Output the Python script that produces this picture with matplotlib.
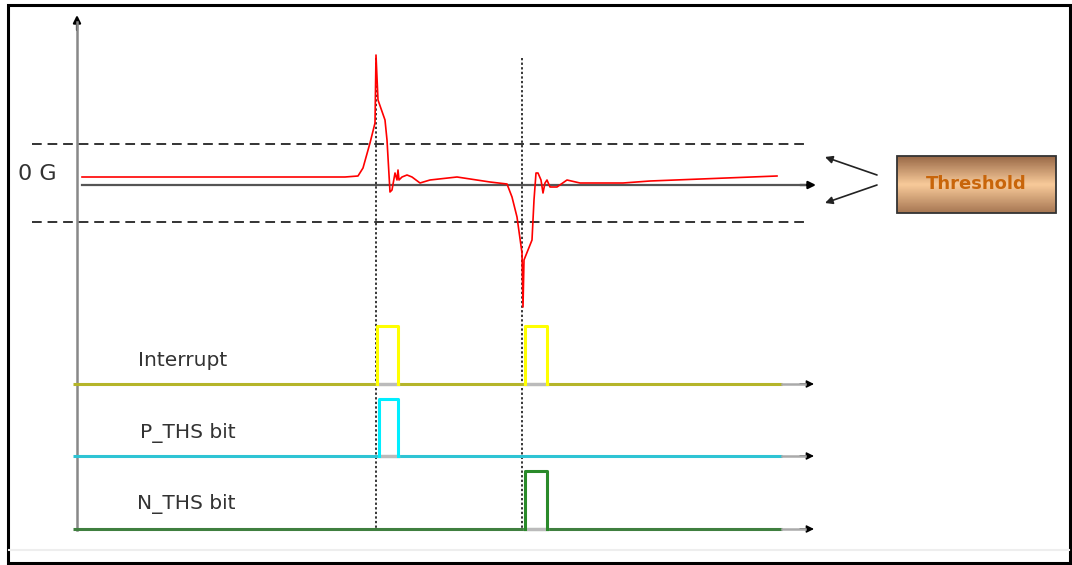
import numpy as np
import matplotlib.pyplot as plt
from matplotlib.patches import Rectangle, FancyArrowPatch

# all positions in picture pixels (x right, y down)
sig_x = [82, 200, 345, 358, 363, 370, 375, 376, 378, 385, 387, 390, 392, 395, 397,
         398, 399, 402, 407, 412, 420, 430, 457, 490, 507, 512, 517, 522, 523, 524,
         532, 534, 536, 538, 541, 543, 545, 547, 550, 557, 567, 580, 623, 650, 777]
sig_y = [177, 177, 177, 176, 168, 143, 123, 55, 100, 120, 140, 192, 190, 173, 180,
         170, 180, 177, 175, 177, 183, 180, 177, 182, 184, 197, 217, 253, 307, 260,
         240, 200, 173, 173, 180, 193, 183, 180, 187, 187, 180, 183, 183, 181, 176]

zero_y = 185
thr_hi = 144
thr_lo = 222
event_x = [376, 522]

channels = ["Interrupt", "P_THS bit", "N_THS bit"]
base_y = [384, 456, 529]
top_y = [326, 399, 471]
pulses = [[(377, 398), (525, 547)], [(379, 398)], [(525, 547)]]
base_col = ["#b5b52a", "#2ec4d4", "#3f7f3f"]
pulse_col = ["#ffff00", "#00eeff", "#2a8a2a"]
label_xy = [(138, 361), (140, 433), (137, 504)]

fig = plt.figure(figsize=(10.72, 5.65), dpi=100)
ax = fig.add_axes([0, 0, 1, 1])
ax.set_xlim(0, 1072)
ax.set_ylim(565, 0)
ax.axis("off")

# frame
ax.add_patch(Rectangle((8, 5), 1062, 558, fill=False, ec="black", lw=2.2))
ax.plot([9, 1069], [550, 550], color="#eeeeee", lw=1.5)

def arrow(x0, y0, x1, y1, col="#888888", lw=1.6):
    ax.add_patch(FancyArrowPatch((x0, y0), (x1, y1), arrowstyle="-|>", mutation_scale=11,
                                 color=col, lw=lw, shrinkA=0, shrinkB=0))

# y axis
ax.plot([77, 77], [530, 22], color="#888888", lw=1.8)
arrow(77, 30, 77, 15, col="black")

# thresholds and zero line
for yy in [thr_hi, thr_lo]:
    ax.plot([32, 806], [yy, yy], color="#333333", lw=1.4, ls=(0, (5, 3)))
ax.plot([82, 805], [zero_y, zero_y], color="#555555", lw=1.6)
arrow(800, zero_y, 816, zero_y, col="black")
ax.text(18, 174, "0 G", fontsize=16, color="#333333", family="DejaVu Sans",
        va="center", ha="left")

# event markers
for ex in event_x:
    ax.plot([ex, ex], [58, 530], color="black", lw=1.1, ls=(0, (1.5, 1.5)))

# accel trace
ax.plot(sig_x, sig_y, color="red", lw=1.2)

# digital channels
for i, name in enumerate(channels):
    yb, yt = base_y[i], top_y[i]
    ax.plot([73, 782], [yb, yb], color=base_col[i], lw=2.2, solid_capstyle="butt")
    ax.plot([782, 805], [yb, yb], color="#aaaaaa", lw=1.8)
    arrow(800, yb, 814, yb, col="black", lw=1)
    for (p0, p1) in pulses[i]:
        ax.plot([p0, p1], [yb, yb], color="#bbbbbb", lw=2.4, zorder=3)
        ax.plot([p0, p0, p1, p1], [yb, yt, yt, yb], color=pulse_col[i], lw=2.2,
                zorder=4, solid_joinstyle="round")
    ax.text(label_xy[i][0], label_xy[i][1], name, fontsize=14.5, color="#333333",
            family="DejaVu Sans", va="center", ha="left")

# threshold box with gradient
grad = np.concatenate([np.linspace(0, 1, 20), np.linspace(1, 0.15, 20)])
cmap = plt.matplotlib.colors.LinearSegmentedColormap.from_list("tb", ["#9a6a48", "#f6c898"])
ax.imshow(grad[:, None], cmap=cmap, extent=(897, 1056, 213, 156), aspect="auto", zorder=2)
ax.add_patch(Rectangle((897, 156), 159, 57, fill=False, ec="#333333", lw=1.3, zorder=3))
ax.text(976, 184, "Threshold", fontsize=13, fontweight="bold", color="#c8650a",
        family="DejaVu Sans", ha="center", va="center", zorder=4)
arrow(877, 175, 825, 157, col="#222222", lw=1.2)
arrow(877, 185, 825, 203, col="#222222", lw=1.2)

ax.set_xlim(0, 1072)
ax.set_ylim(565, 0)
fig.savefig("out.png", dpi=100)
